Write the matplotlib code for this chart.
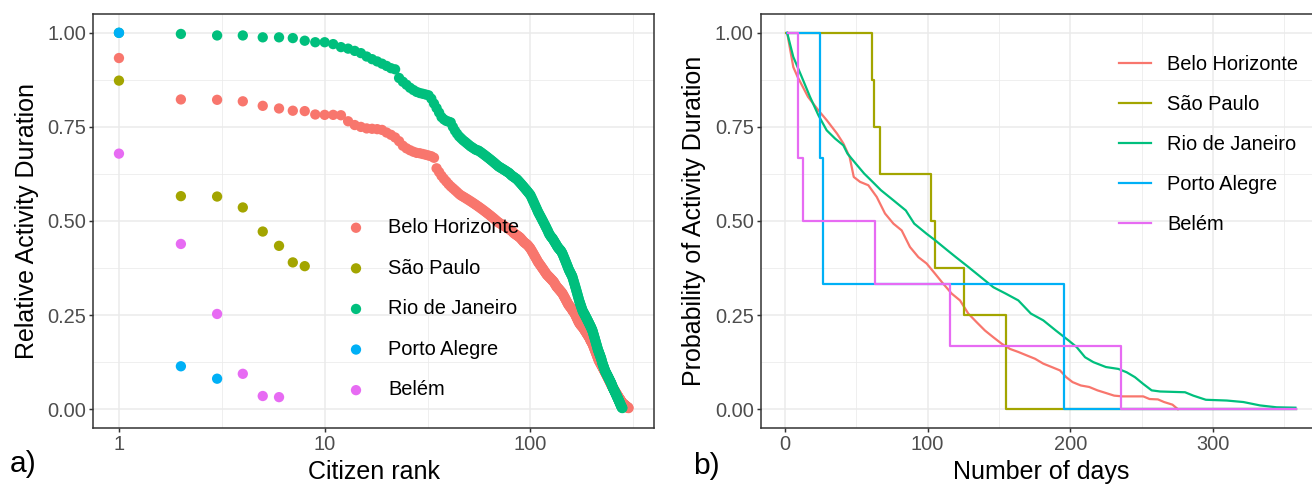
import matplotlib

matplotlib.use("Agg")
import matplotlib.pyplot as plt

plt.rcParams["font.family"] = ["Liberation Sans", "DejaVu Sans"]

CITIES = ["Belo Horizonte", "São Paulo", "Rio de Janeiro", "Porto Alegre", "Belém"]
COLORS = ["#F8766D", "#A3A500", "#00BF7D", "#00B0F6", "#E76BF3"]

# panel a) relative activity duration, sorted by citizen rank (rank = position + 1)
BH_REL = [
    0.933, 0.823, 0.822, 0.818, 0.806, 0.799, 0.793, 0.792, 0.783, 0.782, 0.782, 0.781,
    0.765, 0.755, 0.750, 0.746, 0.745, 0.744, 0.742,
    0.735, 0.729, 0.722, 0.712, 0.700, 0.693,
    0.688, 0.684, 0.681, 0.680, 0.678, 0.676, 0.674, 0.672, 0.668,
    0.640, 0.630, 0.620, 0.612, 0.605, 0.598,
    0.592, 0.587, 0.582, 0.577, 0.572, 0.568, 0.565,
    0.562, 0.559, 0.556, 0.553, 0.550, 0.547, 0.544, 0.541, 0.538,
    0.535, 0.532, 0.529, 0.526, 0.523, 0.520, 0.517, 0.514, 0.511, 0.508, 0.505, 0.502, 0.499, 0.496,
    0.494, 0.492, 0.490, 0.488, 0.486, 0.484, 0.482, 0.480, 0.478, 0.476, 0.474, 0.471, 0.468, 0.466,
    0.464, 0.462, 0.460, 0.458,
    0.456, 0.453, 0.450, 0.447, 0.444, 0.442, 0.440, 0.438, 0.436, 0.433, 0.430, 0.427,
    0.423, 0.419, 0.415, 0.411, 0.407, 0.403, 0.399, 0.395, 0.391, 0.388,
    0.385, 0.382, 0.379, 0.376, 0.373, 0.370, 0.367, 0.364, 0.361, 0.358, 0.356, 0.354, 0.352,
    0.350, 0.348, 0.346, 0.344, 0.342, 0.340, 0.338, 0.335, 0.332, 0.329, 0.326, 0.324, 0.322, 0.320,
    0.318, 0.316, 0.314, 0.312, 0.310, 0.308,
    0.305, 0.302, 0.299, 0.296, 0.293, 0.290, 0.287, 0.284, 0.281, 0.278, 0.276, 0.274, 0.272, 0.270,
    0.268, 0.266, 0.263,
    0.261, 0.259, 0.257, 0.255, 0.252, 0.249, 0.246, 0.243, 0.240, 0.237, 0.234, 0.231, 0.229, 0.227,
    0.225, 0.223, 0.222, 0.220, 0.219,
    0.217, 0.215, 0.213, 0.211, 0.209, 0.207, 0.205, 0.203, 0.201, 0.199, 0.197, 0.195, 0.193, 0.191,
    0.189, 0.186, 0.183, 0.181, 0.179, 0.177, 0.175,
    0.172, 0.169, 0.166, 0.163, 0.160, 0.157, 0.154, 0.151, 0.148, 0.145, 0.142, 0.139, 0.136, 0.133,
    0.130, 0.128, 0.126, 0.124, 0.122, 0.120, 0.118, 0.116, 0.114, 0.112,
    0.110, 0.108, 0.106, 0.104, 0.102, 0.100, 0.098, 0.096, 0.094, 0.092, 0.090, 0.088, 0.086, 0.084,
    0.082, 0.080, 0.078, 0.076, 0.074, 0.072, 0.070, 0.068, 0.066, 0.064, 0.062, 0.060, 0.059,
    0.057, 0.055, 0.053, 0.052, 0.050, 0.049, 0.047, 0.046, 0.044, 0.043, 0.041, 0.040, 0.038, 0.037,
    0.035, 0.034, 0.032, 0.031, 0.030, 0.028, 0.027, 0.026, 0.024, 0.023, 0.022, 0.020, 0.019, 0.018,
    0.016,
    0.015, 0.015, 0.014, 0.013, 0.013, 0.012, 0.011, 0.011, 0.010, 0.009, 0.009, 0.008, 0.007, 0.007,
    0.006, 0.005, 0.005, 0.004, 0.004, 0.003,
]
SP_REL = [0.873, 0.566, 0.565, 0.536, 0.472, 0.434, 0.390, 0.380]
RJ_REL = [
    1.000, 0.997, 0.993, 0.993, 0.988, 0.988, 0.986, 0.979, 0.975, 0.975,
    0.970, 0.962, 0.958, 0.952, 0.946, 0.937, 0.930, 0.924, 0.918, 0.912,
    0.906, 0.903, 0.880, 0.870, 0.862, 0.854, 0.848, 0.843, 0.840, 0.838,
    0.836, 0.834, 0.825, 0.812, 0.800, 0.788, 0.776, 0.770, 0.766, 0.764,
    0.762, 0.750, 0.740, 0.732, 0.725, 0.720, 0.715, 0.711, 0.707, 0.703,
    0.699, 0.696, 0.693, 0.690, 0.688, 0.687,
    0.684, 0.681, 0.678, 0.675, 0.672, 0.669, 0.666, 0.663, 0.660, 0.657, 0.654, 0.651, 0.648, 0.645,
    0.643, 0.641, 0.639, 0.637, 0.635, 0.633, 0.631, 0.629, 0.627, 0.624, 0.621, 0.619, 0.617, 0.615,
    0.613, 0.611, 0.608, 0.605,
    0.602, 0.599, 0.596, 0.593, 0.590, 0.587, 0.584, 0.581, 0.578, 0.575, 0.572, 0.569,
    0.564, 0.559, 0.554, 0.549, 0.544, 0.539, 0.534, 0.529, 0.524, 0.520,
    0.516, 0.512, 0.508, 0.504, 0.500, 0.496, 0.492, 0.488, 0.484, 0.480, 0.476, 0.472, 0.467,
    0.464, 0.461, 0.458, 0.456, 0.454, 0.451, 0.448, 0.445, 0.442, 0.439, 0.436, 0.433, 0.430, 0.428,
    0.426, 0.424, 0.422, 0.420, 0.417, 0.414,
    0.410, 0.406, 0.402, 0.398, 0.394, 0.390, 0.386, 0.382, 0.378, 0.374, 0.370, 0.367, 0.364, 0.361,
    0.358, 0.355, 0.352,
    0.347, 0.342, 0.337, 0.332, 0.327, 0.322, 0.317, 0.312, 0.307, 0.302, 0.297, 0.292, 0.287, 0.283,
    0.279, 0.275, 0.271, 0.267, 0.263,
    0.260, 0.257, 0.255, 0.253, 0.250, 0.248, 0.245, 0.243, 0.240, 0.238, 0.235, 0.233, 0.230, 0.228,
    0.225, 0.223, 0.220, 0.218, 0.215, 0.212, 0.210,
    0.206, 0.202, 0.198, 0.194, 0.190, 0.186, 0.182, 0.178, 0.174, 0.170, 0.166, 0.162, 0.158, 0.155,
    0.152, 0.149, 0.146, 0.143, 0.140, 0.137, 0.134, 0.130, 0.126, 0.122,
    0.119, 0.116, 0.113, 0.110, 0.107, 0.104, 0.101, 0.099, 0.097, 0.095, 0.093, 0.091, 0.089, 0.087,
    0.085, 0.083, 0.081, 0.079, 0.077, 0.075, 0.073, 0.071, 0.069, 0.067, 0.064, 0.062, 0.059,
    0.057, 0.055, 0.053, 0.051, 0.049, 0.047, 0.045, 0.043, 0.041, 0.039, 0.037, 0.035, 0.033, 0.031,
    0.029, 0.027, 0.025, 0.023, 0.021, 0.019, 0.017, 0.015, 0.013, 0.011, 0.009, 0.007, 0.005, 0.004,
    0.003,
]
PA_REL = [1.000, 0.114, 0.081]
BE_REL = [0.679, 0.439, 0.253, 0.094, 0.035, 0.032]

# panel b) survival of activity duration (days, probability)
BH_DAYS = [1.5, 5.8, 8.8, 16.1, 23.4, 29.2, 36.5, 40.9, 45.3, 48.2, 52.6, 58.4, 64.3, 70.1, 76.0,
           81.8, 87.6, 93.5, 99.3, 105.2, 111.0, 116.9, 122.7, 128.5, 134.4, 140.2, 146.1, 151.9,
           157.8, 163.6, 169.4, 175.3, 181.1, 187.0, 192.8, 197.2, 201.6, 207.4, 213.3, 219.1,
           225.0, 230.8, 236.6, 251.2, 255.6, 261.5, 265.8, 271.7, 275.5]
BH_SURV = [1.0, 0.909, 0.883, 0.830, 0.794, 0.768, 0.732, 0.706, 0.670, 0.617, 0.604, 0.595, 0.564,
           0.520, 0.493, 0.475, 0.431, 0.404, 0.387, 0.360, 0.333, 0.307, 0.289, 0.254, 0.231,
           0.209, 0.191, 0.174, 0.160, 0.152, 0.143, 0.134, 0.121, 0.112, 0.103, 0.085, 0.072,
           0.063, 0.059, 0.050, 0.043, 0.036, 0.034, 0.034, 0.027, 0.026, 0.019, 0.012, 0.0]
SP_DAYS = [1.0, 61.0, 62.5, 66.3, 102.3, 105.2, 125.6, 154.8, 358.0]
SP_SURV = [1.0, 0.875, 0.75, 0.625, 0.5, 0.375, 0.25, 0.0, 0.0]
RJ_DAYS = [1.5, 5.8, 11.7, 17.5, 23.4, 29.2, 35.1, 40.9, 43.8, 49.7, 55.5, 61.4, 67.2, 76.0, 84.7,
           90.6, 99.3, 105.2, 113.9, 119.8, 128.5, 137.3, 146.1, 154.8, 163.6, 172.4, 181.1,
           189.9, 198.7, 204.5, 210.4, 216.2, 225.0, 233.7, 239.6, 245.4, 251.2, 257.1, 263.0,
           280.5, 286.3, 295.1, 309.7, 321.4, 333.1, 344.7, 357.9]
RJ_SURV = [1.0, 0.936, 0.883, 0.830, 0.781, 0.741, 0.719, 0.701, 0.679, 0.652, 0.626, 0.604, 0.582,
           0.555, 0.528, 0.493, 0.466, 0.449, 0.422, 0.404, 0.378, 0.351, 0.324, 0.307, 0.289,
           0.254, 0.236, 0.209, 0.183, 0.165, 0.138, 0.125, 0.112, 0.107, 0.098, 0.085, 0.067,
           0.050, 0.047, 0.045, 0.036, 0.025, 0.023, 0.019, 0.010, 0.005, 0.004]
PA_DAYS = [1.5, 24.2, 26.3, 195.5, 358.0]
PA_SURV = [1.0, 0.667, 0.333, 0.0, 0.0]
BE_DAYS = [2.0, 8.8, 12.3, 63.4, 115.4, 235.8, 358.0]
BE_SURV = [1.0, 0.667, 0.5, 0.333, 0.167, 0.0, 0.0]

Y_TICKS = [0.0, 0.25, 0.5, 0.75, 1.0]
Y_TICK_LABELS = ["0.00", "0.25", "0.50", "0.75", "1.00"]

TICK_PT = 14.4
TITLE_PT = 18


def _style(ax):
    ax.set_facecolor("white")
    ax.grid(True, which="major", color="#EBEBEB", linewidth=1.1, zorder=0)
    ax.grid(True, which="minor", color="#EBEBEB", linewidth=0.55, zorder=0)
    ax.set_axisbelow(True)
    for sp in ax.spines.values():
        sp.set_color("#333333")
        sp.set_linewidth(1.1)
    ax.tick_params(which="major", length=2.75, width=1.07, color="#333333",
                   labelcolor="#4D4D4D", labelsize=TICK_PT, pad=2.5)
    ax.tick_params(which="minor", length=0)
    ax.set_ylim(-0.05, 1.05)
    ax.set_yticks(Y_TICKS)
    ax.set_yticklabels(Y_TICK_LABELS)
    ax.set_yticks([0.125, 0.375, 0.625, 0.875], minor=True)


def plot_rank(ax, fig):
    series = [BH_REL, SP_REL, RJ_REL, PA_REL, BE_REL]
    for name, vals, col in zip(CITIES, series, COLORS):
        ranks = range(1, len(vals) + 1)
        ax.scatter(ranks, vals, s=55, color=col, edgecolors="none", label=name, zorder=3)
    ax.set_xscale("log")
    ax.set_xlim(0.752, 399)
    ax.set_xticks([1, 10, 100])
    ax.set_xticklabels(["1", "10", "100"])
    ax.set_xticks([10 ** 0.5, 10 ** 1.5, 10 ** 2.5], minor=True)
    ax.xaxis.set_minor_formatter(plt.NullFormatter())
    _style(ax)
    ax.set_xlabel("Citizen rank", fontsize=TITLE_PT, labelpad=4)
    ax.set_ylabel("Relative Activity Duration", fontsize=TITLE_PT, labelpad=6)
    leg = ax.legend(loc="upper left", bbox_to_anchor=(346 / 1312, 1 - 218 / 486),
                    bbox_transform=fig.transFigure, frameon=False, fontsize=TICK_PT,
                    handlelength=1.0, handletextpad=1.1, labelspacing=1.08,
                    borderpad=0, borderaxespad=0, scatterpoints=1)
    leg.set_zorder(5)


def plot_survival(ax, fig):
    series = [(BH_DAYS, BH_SURV, "linear"), (SP_DAYS, SP_SURV, "steps"),
              (RJ_DAYS, RJ_SURV, "linear"), (PA_DAYS, PA_SURV, "steps"),
              (BE_DAYS, BE_SURV, "steps")]
    for name, (days, surv, kind), col in zip(CITIES, series, COLORS):
        ds = "steps-post" if kind == "steps" else "default"
        ax.plot(days, surv, color=col, linewidth=1.6, drawstyle=ds, label=name, zorder=3)
    ax.set_xlim(-16.85, 375.85)
    ax.set_xticks([0, 100, 200, 300])
    ax.set_xticks([50, 150, 250, 350], minor=True)
    _style(ax)
    ax.set_xlabel("Number of days", fontsize=TITLE_PT, labelpad=4)
    ax.set_ylabel("Probability of Activity Duration", fontsize=TITLE_PT, labelpad=6)
    ax.legend(loc="upper left", bbox_to_anchor=(1119 / 1312, 1 - 55 / 486),
              bbox_transform=fig.transFigure, frameon=False, fontsize=TICK_PT,
              handlelength=1.6, handletextpad=0.8, labelspacing=1.05,
              borderpad=0, borderaxespad=0)


def main():
    fig = plt.figure(figsize=(13.12, 4.86), dpi=100)
    bottom = 1 - 428 / 486
    height = (428 - 14) / 486
    ax_a = fig.add_axes([93.5 / 1312, bottom, (654 - 93.5) / 1312, height])
    ax_b = fig.add_axes([761 / 1312, bottom, (1321 - 761) / 1312, height])
    plot_rank(ax_a, fig)
    plot_survival(ax_b, fig)
    fig.text(10 / 1312, 1 - 472 / 486, "a)", fontsize=21.6, va="baseline", ha="left")
    fig.text(693 / 1312, 1 - 474 / 486, "b)", fontsize=21.6, va="baseline", ha="left")
    fig.savefig("out.png", dpi=100)
    plt.close(fig)


if __name__ == "__main__":
    main()
